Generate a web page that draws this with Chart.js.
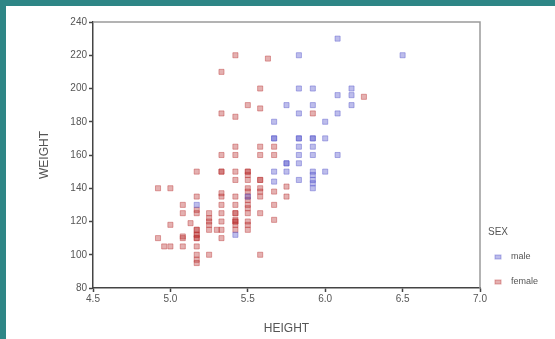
<!DOCTYPE html>
<html>
<head>
<meta charset="utf-8">
<script src="https://cdn.jsdelivr.net/npm/chart.js@4.4.1/dist/chart.umd.min.js"></script>
<style>
  html, body { margin: 0; padding: 0; }
  body { width: 555px; height: 339px; background: #2e8686; position: relative; overflow: hidden; }
  #box { position: absolute; left: 6px; top: 6px; width: 549px; height: 333px; background: #fff; }
</style>
</head>
<body>
<div id="box"><canvas id="scatter-chart" width="549" height="333"></canvas></div>
<script>
// Height (feet) vs weight (lb) by sex

var maleHeight = [5.17, 5.42, 5.5, 5.67, 5.67, 5.67, 5.67, 5.67, 5.75, 5.75, 5.75, 5.75,
  5.83, 5.83, 5.83, 5.83, 5.83, 5.83, 5.83, 5.83, 5.83,
  5.92, 5.92, 5.92, 5.92, 5.92, 5.92, 5.92, 5.92, 5.92, 5.92, 5.92,
  6.0, 6.0, 6.0, 6.08, 6.08, 6.08, 6.08, 6.17, 6.17, 6.17, 6.5];
var maleWeight = [130, 112, 135, 180, 170, 170, 150, 144, 190, 155, 155, 150,
  220, 200, 185, 170, 170, 165, 160, 155, 145,
  200, 190, 170, 170, 165, 160, 150, 148, 145, 143, 140,
  180, 170, 150, 230, 196, 185, 160, 200, 196, 190, 220];

var femaleHeight = [4.92, 4.92, 4.96, 5.0, 5.0, 5.0,
  5.08, 5.08, 5.08, 5.08, 5.08, 5.13,
  5.17, 5.17, 5.17, 5.17, 5.17, 5.17, 5.17, 5.17, 5.17, 5.17, 5.17, 5.17, 5.17, 5.17,
  5.25, 5.25, 5.25, 5.25, 5.25, 5.25, 5.3,
  5.33, 5.33, 5.33, 5.33, 5.33, 5.33, 5.33, 5.33, 5.33, 5.33, 5.33, 5.33,
  5.42, 5.42, 5.42, 5.42, 5.42, 5.42, 5.42, 5.42, 5.42, 5.42, 5.42, 5.42, 5.42, 5.42, 5.42,
  5.5, 5.5, 5.5, 5.5, 5.5, 5.5, 5.5, 5.5, 5.5, 5.5, 5.5, 5.5, 5.5, 5.5, 5.5,
  5.58, 5.58, 5.58, 5.58, 5.58, 5.58, 5.58, 5.58, 5.58, 5.58, 5.58, 5.63,
  5.67, 5.67, 5.67, 5.67, 5.67, 5.75, 5.75, 5.92, 6.25];
var femaleWeight = [140, 110, 105, 140, 118, 105,
  130, 125, 111, 110, 105, 119,
  150, 135, 127, 125, 115, 115, 112, 112, 110, 110, 105, 100, 97, 95,
  125, 122, 120, 118, 115, 100, 115,
  210, 185, 160, 150, 150, 137, 135, 130, 125, 120, 115, 110,
  220, 183, 165, 160, 150, 145, 135, 130, 125, 125, 121, 120, 120, 118, 115,
  190, 150, 150, 148, 145, 140, 138, 135, 133, 130, 128, 125, 120, 118, 115,
  200, 188, 165, 160, 145, 145, 140, 138, 135, 125, 100, 218,
  165, 160, 138, 130, 121, 141, 135, 185, 195];

var sexLabels = ['male', 'female'];
var xTicks = [4.5, 5.0, 5.5, 6.0, 6.5, 7.0];
var yTicks = [80, 100, 120, 140, 160, 180, 200, 220, 240];

function toPoints(xs, ys) {
  return xs.map(function (x, i) { return { x: x, y: ys[i] }; });
}

var maleColor = 'rgba(90, 90, 205, 0.4)';
var femaleColor = 'rgba(185, 50, 50, 0.38)';

// frame (top/right) and the SEX legend on the right
var framePlugin = {
  id: 'frame',
  afterDraw: function (chart) {
    var c = chart.ctx, a = chart.chartArea;
    c.save();
    c.strokeStyle = '#9a9a9a';
    c.lineWidth = 1.5;
    c.beginPath();
    c.moveTo(a.left, a.top);
    c.lineTo(a.right, a.top);
    c.lineTo(a.right, a.bottom);
    c.stroke();

    c.fillStyle = '#555';
    c.font = '10px "Liberation Sans", Arial, sans-serif';
    c.textBaseline = 'middle';
    c.textAlign = 'left';
    c.fillText('SEX', 482, 226);
    var ys = [251, 276];
    chart.data.datasets.forEach(function (ds, i) {
      c.fillStyle = ds.backgroundColor;
      c.strokeStyle = ds.borderColor;
      c.lineWidth = 1;
      c.fillRect(489, ys[i] - 2, 6, 4);
      c.strokeRect(489, ys[i] - 2, 6, 4);
      c.fillStyle = '#555';
      c.font = '9px "Liberation Sans", Arial, sans-serif';
      c.fillText(ds.label, 505, ys[i]);
    });
    c.restore();
  }
};

var ctx = document.getElementById('scatter-chart').getContext('2d');
var scatterChart = new Chart(ctx, {
  type: 'scatter',
  data: {
    datasets: [{
      label: sexLabels[0],
      data: toPoints(maleHeight, maleWeight),
      backgroundColor: maleColor,
      borderColor: 'rgba(90, 90, 205, 0.45)',
      borderWidth: 1,
      pointStyle: 'rect',
      pointRadius: 3.6
    }, {
      label: sexLabels[1],
      data: toPoints(femaleHeight, femaleWeight),
      backgroundColor: femaleColor,
      borderColor: 'rgba(185, 50, 50, 0.42)',
      borderWidth: 1,
      pointStyle: 'rect',
      pointRadius: 3.6
    }]
  },
  options: {
    responsive: false,
    animation: false,
    layout: { padding: { left: 0, top: 16, right: 75, bottom: 0 } },
    plugins: {
      legend: { display: false },
      tooltip: { enabled: false }
    },
    scales: {
      x: {
        type: 'linear',
        min: 4.5,
        max: 7.0,
        afterBuildTicks: function (axis) { axis.ticks = xTicks.map(function (v) { return { value: v }; }); },
        afterFit: function (axis) { axis.height = 51; },
        ticks: {
          color: '#555',
          font: { size: 10, family: '"Liberation Sans", Arial, sans-serif' },
          padding: 1,
          maxRotation: 0,
          callback: function (v) { return v.toFixed(1); }
        },
        grid: { drawOnChartArea: false, tickLength: 4, tickColor: '#444', tickWidth: 1.5 },
        border: { color: '#444', width: 1.5 },
        title: {
          display: true,
          text: 'HEIGHT',
          color: '#555',
          font: { size: 12, family: '"Liberation Sans", Arial, sans-serif' },
          padding: { top: 0, bottom: 3 }
        }
      },
      y: {
        type: 'linear',
        min: 80,
        max: 240,
        afterBuildTicks: function (axis) { axis.ticks = yTicks.map(function (v) { return { value: v }; }); },
        afterFit: function (axis) { axis.width = 87; },
        ticks: {
          color: '#555',
          font: { size: 10, family: '"Liberation Sans", Arial, sans-serif' },
          padding: 2
        },
        grid: { drawOnChartArea: false, tickLength: 4, tickColor: '#444', tickWidth: 1.5 },
        border: { color: '#444', width: 1.5 },
        title: {
          display: true,
          text: 'WEIGHT',
          color: '#555',
          font: { size: 12, family: '"Liberation Sans", Arial, sans-serif' },
          padding: { top: 31, bottom: 0 }
        }
      }
    }
  },
  plugins: [framePlugin]
});
</script>
</body>
</html>
